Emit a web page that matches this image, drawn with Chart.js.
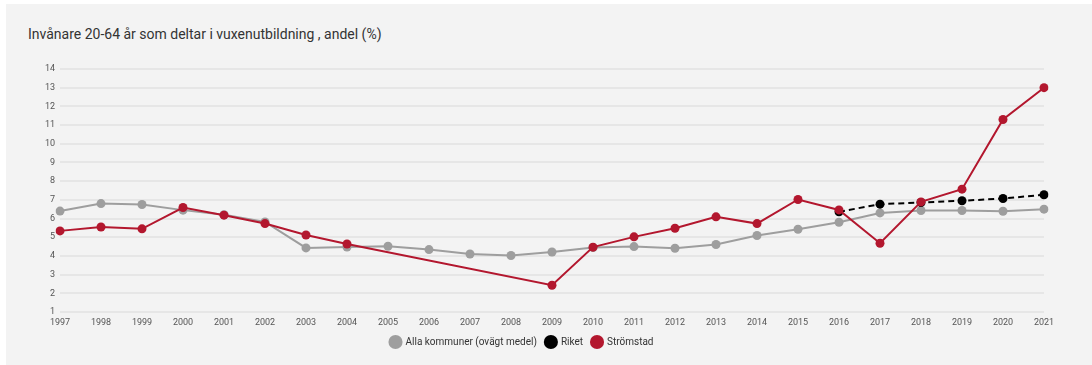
<!DOCTYPE html>
<html>
<head>
<meta charset="utf-8">
<script src="https://cdn.jsdelivr.net/npm/chart.js@4/dist/chart.umd.min.js"></script>
<style>
  html, body { margin: 0; padding: 0; background: #fff; }
  #panel { position: absolute; left: 6px; top: 4px; width: 1086px; height: 361px; background: #f3f3f3; }
  #title { position: absolute; left: 28px; top: 25px; font: 14px Roboto, sans-serif; color: #333; line-height: 18px; }
  #wrap { position: absolute; left: 0; top: 0; width: 1092px; height: 365px; }
</style>
</head>
<body>
<div id="panel"></div>
<div id="title">Invånare 20-64 år som deltar i vuxenutbildning , andel (%)</div>
<div id="wrap"><canvas id="chart" width="1092" height="365"></canvas></div>
<script>
// years on the x axis
const years = ['1997', '1998', '1999', '2000', '2001', '2002', '2003', '2004', '2005', '2006', '2007', '2008',
  '2009', '2010', '2011', '2012', '2013', '2014', '2015', '2016', '2017', '2018', '2019', '2020', '2021'];

// Alla kommuner (ovägt medel)
const allaKommuner = [6.4, 6.8, 6.75, 6.45, 6.2, 5.82, 4.43, 4.48, 4.52, 4.34, 4.1, 4.02,
  4.21, 4.45, 4.5, 4.41, 4.61, 5.09, 5.43, 5.8, 6.3, 6.43, 6.43, 6.39, 6.5];

// Riket, only from 2016
const riket = [null, null, null, null, null, null, null, null, null, null, null, null,
  null, null, null, null, null, null, null, 6.36, 6.77, 6.86, 6.95, 7.07, 7.27];

// Strömstad (no values 2005-2008)
const stromstad = [5.34, 5.55, 5.45, 6.59, 6.18, 5.73, 5.12, 4.64, null, null, null, null,
  2.43, 4.47, 5.02, 5.48, 6.09, 5.73, 7.02, 6.46, 4.68, 6.89, 7.57, 11.3, 13.0];

const gray = '#9e9e9e';
const red = '#b3172e';

const ctx = document.getElementById('chart').getContext('2d');

new Chart(ctx, {
  type: 'line',
  data: {
    labels: years,
    datasets: [
      {
        label: 'Alla kommuner (ovägt medel)',
        data: allaKommuner,
        borderColor: gray,
        backgroundColor: gray,
        borderWidth: 2,
        pointRadius: 4.5,
        pointBorderWidth: 0,
        order: 3,
      },
      {
        label: 'Riket',
        data: riket,
        borderColor: '#000',
        backgroundColor: '#000',
        borderWidth: 2,
        borderDash: [6, 4],
        pointRadius: 4.5,
        pointBorderWidth: 0,
        order: 2,
      },
      {
        label: 'Strömstad',
        data: stromstad,
        borderColor: red,
        backgroundColor: red,
        borderWidth: 2,
        pointRadius: 4.5,
        pointBorderWidth: 0,
        spanGaps: true,
        order: 1,
      },
    ],
  },
  options: {
    responsive: false,
    animation: false,
    layout: { padding: { left: 0, right: 48, top: 69, bottom: 8 } },
    plugins: {
      tooltip: { enabled: false },
      legend: {
        position: 'bottom',
        labels: {
          usePointStyle: true,
          pointStyle: 'circle',
          boxWidth: 10,
          boxHeight: 10,
          padding: 9,
          color: '#333',
          font: { family: 'Roboto', size: 10 },
          sort: (a, b) => a.datasetIndex - b.datasetIndex,
        },
      },
    },
    scales: {
      x: {
        grid: { display: false, drawTicks: false },
        border: { display: false },
        ticks: { color: '#555', font: { family: 'Roboto', size: 9 }, padding: 5, maxRotation: 0, autoSkip: false },
        afterFit: (scale) => { scale.height = 16; },
      },
      y: {
        min: 1,
        max: 14,
        grid: { color: '#e6e6e6', lineWidth: 2, drawTicks: false },
        border: { display: false },
        ticks: { stepSize: 1, color: '#555', font: { family: 'Roboto', size: 9 }, padding: 5 },
        afterFit: (scale) => { scale.width = 60; },
      },
    },
  },
});
</script>
</body>
</html>
